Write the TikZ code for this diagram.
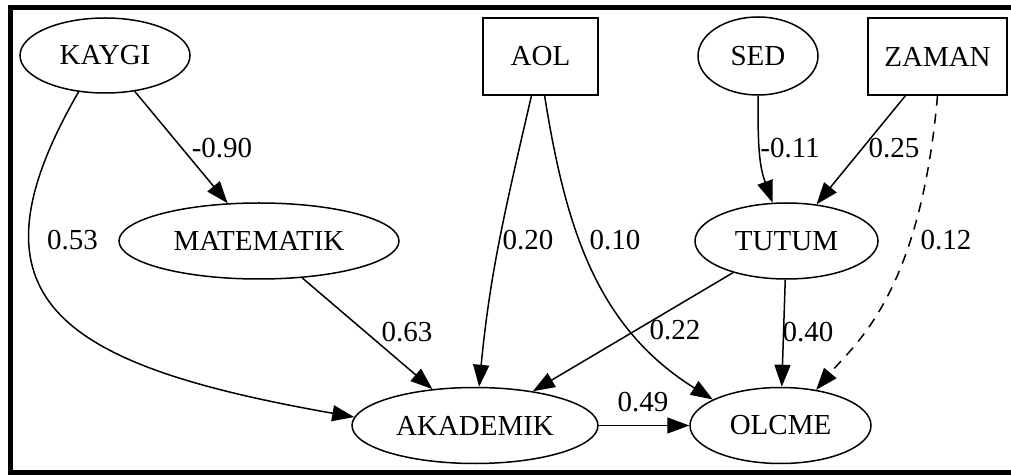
\documentclass[tikz,border=0pt]{standalone}
\usepackage{fontspec}
\setmainfont{Liberation Serif}
\usetikzlibrary{shapes.geometric,arrows.meta}

\begin{document}
\begin{tikzpicture}[
  x=0.5pt, y=0.5pt,
  font=\fontsize{14.5}{16}\selectfont,
  line width=0.75pt,
  latent/.style={draw, ellipse, inner sep=0pt, minimum height=38pt},
  obs/.style={draw, rectangle, inner sep=0pt, minimum width=57.5pt, minimum height=38.5pt},
  arr/.style={-{Triangle[length=11pt, width=8pt]}},
  coef/.style={inner sep=1pt}
]
\useasboundingbox (0,0) rectangle (1011,-475);
\fill (8,-5) rectangle (1011,-10);
\fill (8,-5) rectangle (13,-475);
\fill (8,-470) rectangle (1011,-475);
\node[latent, minimum width=85pt, minimum height=37.5pt] (kaygi) at (105,-55.5) {KAYGI};
\node[obs] (aol) at (540.5,-56.5) {AOL};
\node[latent, minimum width=60pt, minimum height=39pt] (sed) at (758,-56) {SED};
\node[obs, minimum width=69.5pt] (zaman) at (937.5,-56.5) {ZAMAN};
\node[latent, minimum width=140pt] (matematik) at (259,-241) {MATEMATIK};
\node[latent, minimum width=91.5pt] (tutum) at (786.5,-241) {TUTUM};
\node[latent, minimum width=123pt] (akademik) at (475,-425.5) {AKADEMIK};
\node[latent, minimum width=90.5pt] (olcme) at (780.5,-425.5) {OLCME};
\draw[arr] (kaygi) -- (matematik);
\draw[arr] (kaygi.-126) to[out=-120, in=170, out distance=120pt, in distance=150pt] (akademik.176);
\draw[arr] (matematik) -- (akademik);
\draw[arr] (aol.-103) to[out=-103, in=84.5] (akademik.84);
\draw[arr] (aol.-84) to[out=-81, in=148] (olcme.159);
\draw[arr] (sed) to[out=-90, in=110] (tutum);
\draw[arr] (zaman) -- (tutum);
\draw[arr] (tutum) -- (akademik);
\draw[arr] (tutum) -- (olcme);
\draw[arr, dash pattern=on 5pt off 4pt] (zaman.-90) to[out=-95, in=50, out distance=100pt, in distance=30pt] (olcme.45);
\draw[arr] (akademik) -- (olcme);
\node[coef] (c1) at (222,-148) {-0.90};
\node[coef] (c2) at (72.5,-240) {0.53};
\node[coef] (c3) at (407,-332) {0.63};
\node[coef] (c4) at (528,-240) {0.20};
\node[coef] (c5) at (615,-240) {0.10};
\node[coef] (c6) at (675,-330) {0.22};
\node[coef] (c7) at (790,-148) {-0.11};
\node[coef] (c8) at (894,-148) {0.25};
\node[coef] (c9) at (946,-240) {0.12};
\node[coef] (c10) at (808,-332) {0.40};
\node[coef] (c11) at (643,-402) {0.49};
\end{tikzpicture}
\end{document}
